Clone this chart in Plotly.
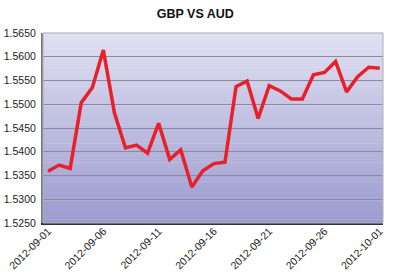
import plotly.graph_objects as go
import pandas as pd

dates = pd.date_range("2012-09-01", "2012-10-01", freq="D").strftime("%Y-%m-%d").tolist()
rates = [1.5359, 1.5372, 1.5365, 1.5503, 1.5535, 1.5614, 1.5482, 1.5408, 1.5414, 1.5397,
         1.5460, 1.5384, 1.5404, 1.5326, 1.5360, 1.5375, 1.5378, 1.5537, 1.5549, 1.5470,
         1.5539, 1.5528, 1.5511, 1.5511, 1.5562, 1.5567, 1.5590, 1.5526, 1.5558, 1.5578,
         1.5576]
y_ticks = [1.5250, 1.5300, 1.5350, 1.5400, 1.5450, 1.5500, 1.5550, 1.5600, 1.5650]
x_ticks = ["2012-09-01", "2012-09-06", "2012-09-11", "2012-09-16", "2012-09-21", "2012-09-26", "2012-10-01"]

fig = go.Figure()
fig.add_trace(go.Scatter(x=dates, y=rates, mode="lines",
                         line=dict(color="#e8202a", width=3.5), hoverinfo="skip"))

# gradient background
n = 60
top = (224, 224, 241)
bot = (155, 155, 207)
shapes = []
for i in range(n):
    t = i / (n - 1)
    c = tuple(int(round(bot[k] + (top[k] - bot[k]) * t)) for k in range(3))
    shapes.append(dict(type="rect", xref="paper", yref="paper",
                       x0=0, x1=1, y0=i / n, y1=(i + 1) / n + 0.002,
                       fillcolor="rgb(%d,%d,%d)" % c, line=dict(width=0), layer="below"))
shapes.append(dict(type="rect", xref="paper", yref="paper", x0=0, x1=1, y0=0, y1=1,
                   line=dict(color="#b0b0b8", width=1), layer="above"))

fig.update_layout(
    width=420, height=276,
    margin=dict(l=43, r=37, t=33, b=53, autoexpand=False),
    paper_bgcolor="white", plot_bgcolor="white",
    showlegend=False,
    shapes=shapes,
    title=dict(text="<b>GBP VS AUD</b>", x=0.465, xanchor="center", y=0.95, yanchor="middle",
               font=dict(family="Liberation Sans, Arial", size=12.5, color="#111")),
    font=dict(family="Liberation Sans, Arial", size=11, color="#222"),
)
fig.update_xaxes(type="date", range=["2012-08-31 13:00", "2012-10-01 07:00"],
                 tickvals=x_ticks, ticktext=x_ticks, tickangle=-45,
                 tickfont=dict(size=10.5, color="#222"), automargin=False,
                 showgrid=False, showline=True, linecolor="#333", linewidth=2,
                 ticks="", zeroline=False, ticklabelstandoff=-4)
fig.update_yaxes(range=[1.5250, 1.5650], tickvals=y_ticks,
                 ticktext=["%.4f" % v for v in y_ticks],
                 tickfont=dict(size=10.5, color="#222"), automargin=False,
                 showgrid=True, gridcolor="#8a8aa6", gridwidth=1,
                 showline=True, linecolor="#777", linewidth=2,
                 ticks="", zeroline=False, ticklabelstandoff=3)

fig.write_html("out.html")
